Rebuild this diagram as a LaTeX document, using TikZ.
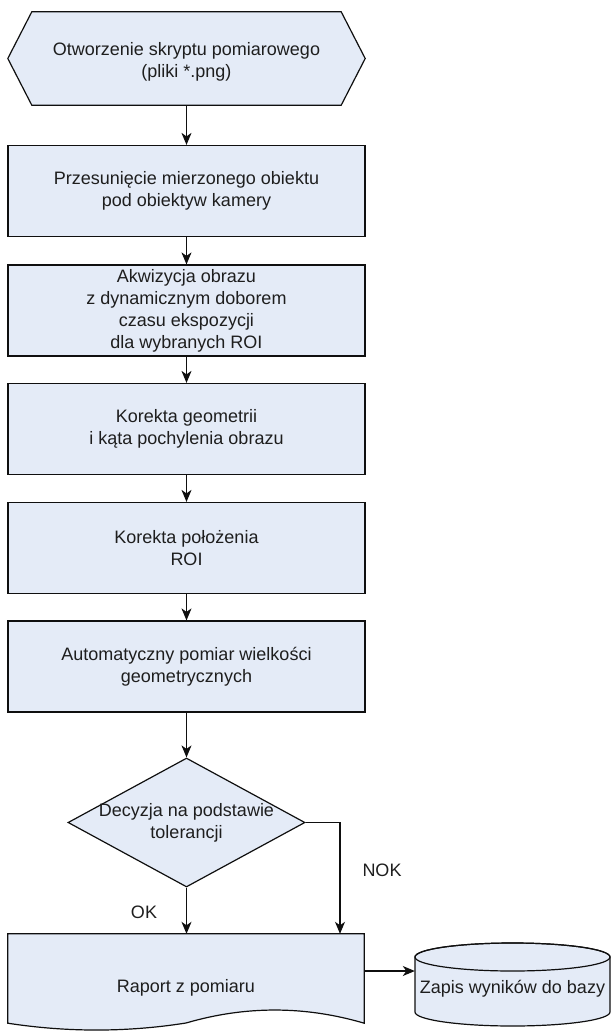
\documentclass[tikz,border=0pt]{standalone}
\usepackage{fontspec}
\setmainfont{Liberation Sans}
\usetikzlibrary{arrows.meta,shapes.geometric,backgrounds}
\definecolor{boxfill}{RGB}{228,235,247}
\definecolor{ln}{RGB}{15,15,15}
\definecolor{txt}{RGB}{30,30,30}
\begin{document}
\begin{tikzpicture}[x=1pt,y=-1pt,
  every node/.style={font=\fontsize{18}{22}\selectfont, text=txt, align=center, inner sep=0pt},
  shapeline/.style={draw=ln, fill=boxfill, line width=1.2pt},
  proc/.style={shapeline, rectangle, minimum width=357pt, minimum height=91pt},
  conn/.style={draw=ln, line width=1.2pt, -{Stealth[length=12pt,width=10pt,inset=3.5pt]}},
  lbl/.style={anchor=center}
]
\useasboundingbox (0,0) rectangle (611,1032);

% start (hexagon)
\node[rectangle, minimum width=357pt, minimum height=93pt] (hex) at (186.5,58.5) {};
\begin{scope}[on background layer]
\path[shapeline] (hex.west) -- ([xshift=24pt]hex.north west) -- ([xshift=-24pt]hex.north east)
  -- (hex.east) -- ([xshift=-24pt]hex.south east) -- ([xshift=24pt]hex.south west) -- cycle;
\end{scope}
\node (hextext) at (186.5,62) {Otworzenie skryptu pomiarowego\\(pliki *.png)};

% process boxes
\node[proc] (b1) at (186.5,191) {Przesunięcie mierzonego obiektu\\pod obiektyw kamery};
\node[proc] (b2) at (186.5,310.5) {Akwizycja obrazu\\z dynamicznym doborem\\czasu ekspozycji\\dla wybranych ROI};
\node[proc] (b3) at (186.5,429) {Korekta geometrii\\i kąta pochylenia obrazu};
\node[proc] (b4) at (186.5,548) {Korekta położenia\\ROI};
\node[proc] (b5) at (186.5,666.5) {Automatyczny pomiar wielkości\\geometrycznych};

% decision
\node[shapeline, diamond, minimum width=237pt, minimum height=129pt, aspect=1.84] (dec) at (186.5,822.5) {};
\node (dectext) at (186.5,823) {Decyzja na podstawie\\tolerancji};

% document shape
\node[rectangle, minimum width=356pt, minimum height=89pt] (doc) at (186,978.5) {};
\begin{scope}[on background layer]
\path[shapeline] (doc.north west) -- (doc.north east) -- (doc.south east)
  .. controls (304.67,1005.67) and (245.33,1005.67) .. (186,1023)
  .. controls (126.67,1032.33) and (67.33,1032.33) .. (doc.south west) -- cycle;
\end{scope}
\node (doctext) at (186,988) {Raport z pomiaru};

% database cylinder
\node[rectangle, minimum width=195pt, minimum height=83pt] (cyl) at (512.5,984.5) {};
\begin{scope}[on background layer]
\path[shapeline] (415,957) -- (415,1012) arc[start angle=180, end angle=360, x radius=97.5pt, y radius=14pt]
  -- (610,957) arc[start angle=0, end angle=180, x radius=97.5pt, y radius=14pt] -- cycle;
\draw[draw=ln, line width=1.2pt] (512.5,957) ellipse[x radius=97.5pt, y radius=14pt];
\end{scope}
\node (cyltext) at (512.5,989) {Zapis wyników do bazy};

% connectors
\draw[conn] (hex.south) -- (b1.north);
\draw[conn] (b1.south) -- (b2.north);
\draw[conn] (b2.south) -- (b3.north);
\draw[conn] (b3.south) -- (b4.north);
\draw[conn] (b4.south) -- (b5.north);
\draw[conn] (b5.south) -- (dec.north);
\draw[conn] (dec.south) -- (dec.south |- doc.north);
\coordinate (nok) at (340,822.5);
\draw[conn] (dec.east) -- (nok) -- (nok |- doc.north);
\draw[conn] ([yshift=7.5pt]doc.east) -- ([yshift=7.5pt]doc.east -| cyl.west);

% labels
\node[lbl] (noklbl) at (382,870) {NOK};
\node[lbl] (oklbl) at (144,912) {OK};
\end{tikzpicture}
\end{document}
